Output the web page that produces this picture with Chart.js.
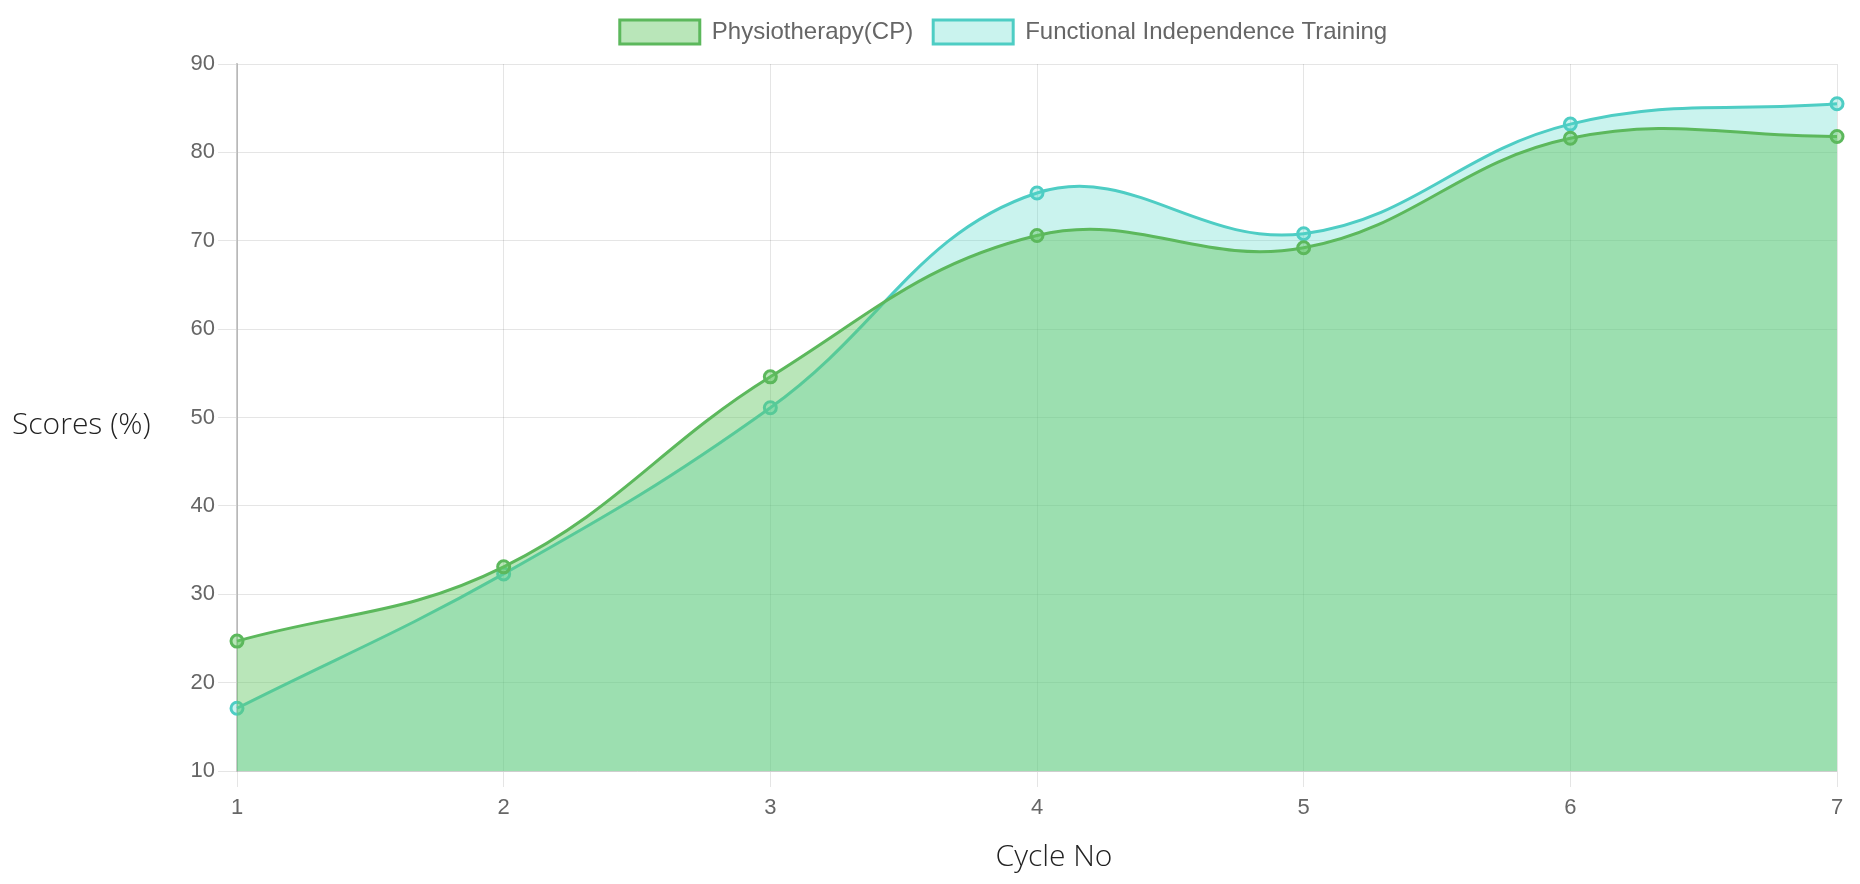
<!doctype html>
<html>
<head>
<meta charset="utf-8">
<title>Scores per cycle</title>
<style>
  html, body { margin: 0; padding: 0; background: #fff; }
  #wrap { width: 1860px; height: 884px; position: relative; }
</style>
</head>

<body>
  <div id="wrap"><canvas id="myChart"></canvas></div>
  <script src="https://cdn.jsdelivr.net/npm/chart.js@4.4.1/dist/chart.umd.min.js"></script>
  <script>
    const cycles = ['1', '2', '3', '4', '5', '6', '7'];
    const physioScores = [24.7, 33.1, 54.6, 70.6, 69.2, 81.6, 81.8];
    const fitScores = [17.1, 32.3, 51.1, 75.4, 70.8, 83.2, 85.5];
    const yTitle = 'Scores (%)';
    const xTitle = 'Cycle No';
  </script>
  <script>
    // axis titles drawn by hand: y title lies flat on the left, x title sits a bit right of centre
    const axisTitles = {
      id: 'axisTitles',
      afterDraw(chart) {
        const c = chart.ctx;
        const area = chart.chartArea;
        c.save();
        c.font = '300 30px "Open Sans"';
        c.fillStyle = '#222';
        c.textBaseline = 'middle';
        c.textAlign = 'left';
        c.fillText(yTitle, 12, (area.top + area.bottom) / 2 + 8);
        c.textAlign = 'center';
        c.fillText(xTitle, (area.left + area.right) / 2 + 17, area.bottom + 86);
        c.restore();
      }
    };

    // more room under the legend, and move it a little to the right
    const legendNudge = {
      id: 'legendNudge',
      afterInit(chart) {
        const lg = chart.legend;
        const fit = lg.fit;
        lg.fit = function() {
          fit.call(this);
          this.height += 10;
        };
      },
      afterLayout(chart) {
        chart.legend.left += 85;
        chart.legend.right += 85;
      }
    };

    const ctx = document.getElementById('myChart');
    var myChart = new Chart(ctx, {
      type: 'line',
      data: {
        labels: cycles,
        datasets: [
          {
            label: 'Physiotherapy(CP)',
            data: physioScores,
            tension: 0.4,
            backgroundColor: 'rgba(100,200,100,0.45)',
            borderColor: '#5cb85c',
            borderWidth: 3,
            pointRadius: 6,
            pointBorderWidth: 3,
            pointBackgroundColor: 'rgba(100,200,100,0.45)',
            fill: 'start'
          },
          {
            label: 'Functional Independence Training',
            data: fitScores,
            tension: 0.4,
            backgroundColor: 'rgba(78,215,200,0.3)',
            borderColor: '#4ecdc4',
            borderWidth: 3,
            pointRadius: 6,
            pointBorderWidth: 3,
            pointBackgroundColor: 'rgba(78,215,200,0.3)',
            fill: 'start'
          }
        ]
      },
      options: {
        responsive: true,
        maintainAspectRatio: false,
        animation: false,
        layout: { padding: { left: 0, right: 23, top: 0, bottom: 0 } },
        plugins: {
          legend: {
            display: true,
            labels: {
              boxWidth: 80,
              boxHeight: 24,
              padding: 20,
              color: '#666',
              font: { family: '"Liberation Sans", Arial', size: 24 }
            }
          },
          tooltip: { enabled: false }
        },
        scales: {
          x: {
            grid: { color: 'rgba(0,0,0,0.1)', tickLength: 16 },
            border: { color: 'rgba(0,0,0,0.1)' },
            ticks: {
              color: '#666',
              padding: 8,
              font: { family: '"Liberation Sans", Arial', size: 22 }
            },
            afterFit(scale) { scale.height = 113; }
          },
          y: {
            min: 10,
            max: 90,
            grid: { color: 'rgba(0,0,0,0.1)', tickLength: 19 },
            border: { color: 'rgba(0,0,0,0.2)', width: 2 },
            ticks: {
              stepSize: 10,
              color: '#666',
              padding: 3,
              font: { family: '"Liberation Sans", Arial', size: 22 }
            },
            afterFit(scale) { scale.width = 237; }
          }
        }
      },
      plugins: [axisTitles, legendNudge]
    });
  </script>
</body>
</html>
